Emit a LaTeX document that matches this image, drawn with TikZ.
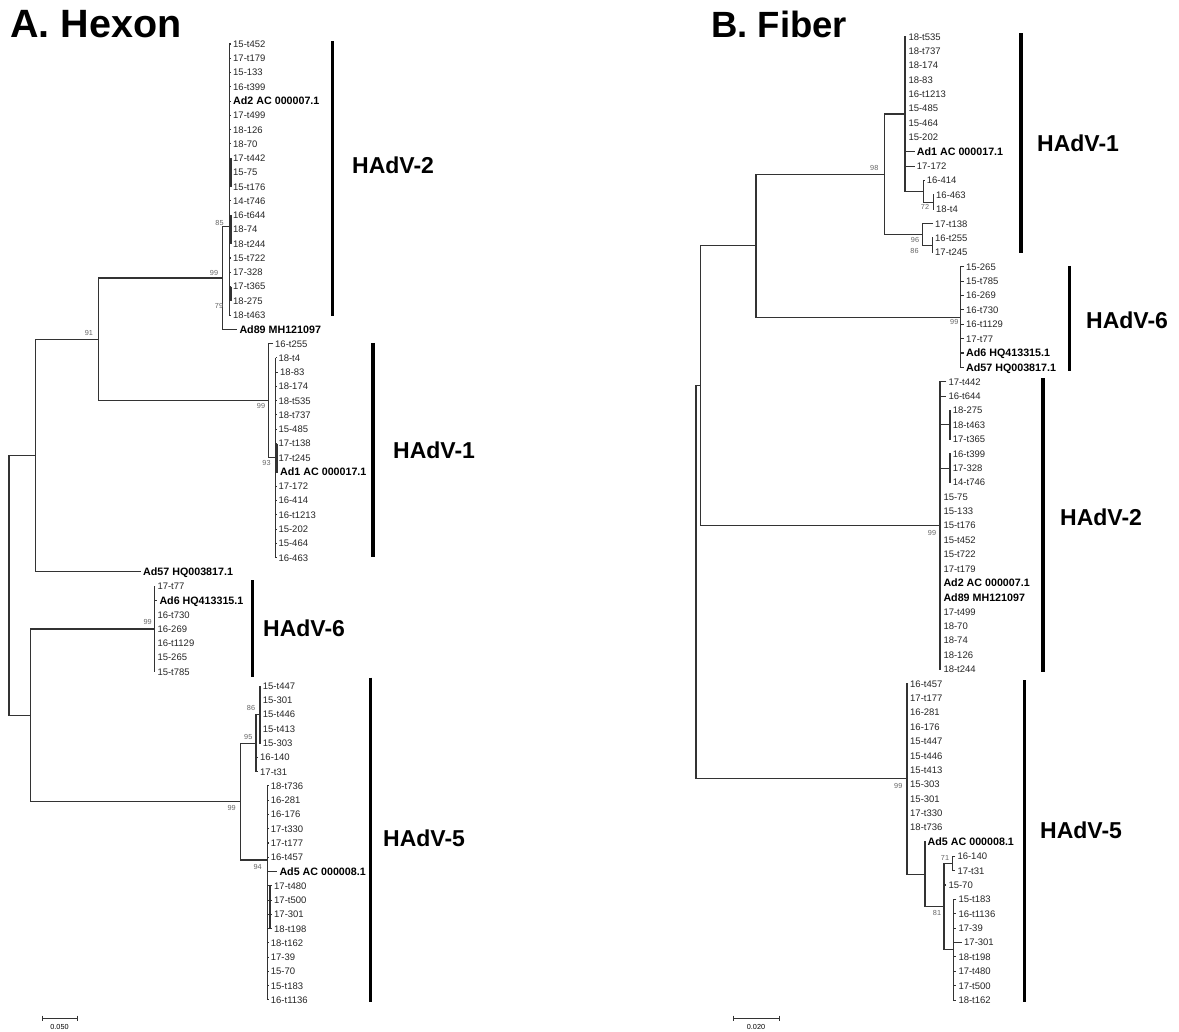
\documentclass[tikz,border=0pt]{standalone}
\usepackage{fontspec}
\newfontfamily\arial{Liberation Sans}
\usetikzlibrary{calc}
\newcommand\hxleaf[3]{\node[leaf] (h#1) at (#2,{44+14.268*#1}) {#3};}
\newcommand\hxbold[3]{\node[bleaf] (h#1) at (#2,{44+14.268*#1}) {#3};}
\newcommand\fbleaf[3]{\node[leaf] (f#1) at (#2,{36.7+14.378*#1}) {#3};}
\newcommand\fbbold[3]{\node[bleaf] (f#1) at (#2,{36.7+14.378*#1}) {#3};}
\begin{document}
\begin{tikzpicture}[x=1pt,y=-1pt,
  br/.style={line width=1.05pt,draw=black!80},
  thk/.style={line width=2.2pt,draw=black!80},
  leaf/.style={anchor=west,inner xsep=2pt,inner ysep=0pt,text height=6.8pt,text depth=0pt,font=\arial\fontsize{9.5}{10}\selectfont,text=black!85},
  bleaf/.style={leaf,text height=7.7pt,font=\arial\bfseries\fontsize{10.7}{11}\selectfont,text=black},
  bs/.style={inner sep=0pt,font=\arial\fontsize{7.3}{7.3}\selectfont,text=black!60},
  bar/.style={line width=3.6pt,draw=black},
  clab/.style={anchor=west,inner sep=0pt,font=\arial\bfseries\fontsize{23}{24}\selectfont},
  ttl/.style={anchor=base west,inner sep=0pt},
  sb/.style={line width=0.9pt,draw=black!80},
  sbl/.style={inner sep=0pt,font=\arial\fontsize{7.3}{7.3}\selectfont}
]
\useasboundingbox (0,0) rectangle (1179,1032);
\fill[white] (0,0) rectangle (1179,1032);

% ---------------- titles
\node[ttl,font=\arial\bfseries\fontsize{39.5}{40}\selectfont] (tA) at (10,38) {A. Hexon};
\node[ttl,font=\arial\bfseries\fontsize{36.5}{40}\selectfont] (tB) at (711,38) {B. Fiber};

% ================= A. HEXON =================
\hxleaf{0}{231}{15-t452}
\hxleaf{1}{231}{17-t179}
\hxleaf{2}{231}{15-133}
\hxleaf{3}{231}{16-t399}
\hxbold{4}{231}{Ad2 AC 000007.1}
\hxleaf{5}{231}{17-t499}
\hxleaf{6}{231}{18-126}
\hxleaf{7}{231}{18-70}
\hxleaf{8}{231}{17-t442}
\hxleaf{9}{231}{15-75}
\hxleaf{10}{231}{15-t176}
\hxleaf{11}{231}{14-t746}
\hxleaf{12}{231}{16-t644}
\hxleaf{13}{231}{18-74}
\hxleaf{14}{231}{18-t244}
\hxleaf{15}{231}{15-t722}
\hxleaf{16}{231}{17-328}
\hxleaf{17}{231}{17-t365}
\hxleaf{18}{231}{18-275}
\hxleaf{19}{231}{18-t463}
\hxbold{20}{237.3}{Ad89 MH121097}
\hxleaf{21}{273}{16-t255}
\hxleaf{22}{276.3}{18-t4}
\hxleaf{23}{278}{18-83}
\hxleaf{24}{276.3}{18-174}
\hxleaf{25}{276.3}{18-t535}
\hxleaf{26}{276.3}{18-t737}
\hxleaf{27}{276.3}{15-485}
\hxleaf{28}{276.3}{17-t138}
\hxleaf{29}{276.3}{17-t245}
\hxbold{30}{278}{Ad1 AC 000017.1}
\hxleaf{31}{276.3}{17-172}
\hxleaf{32}{276.3}{16-414}
\hxleaf{33}{276.3}{16-t1213}
\hxleaf{34}{276.3}{15-202}
\hxleaf{35}{276.3}{15-464}
\hxleaf{36}{276.3}{16-463}
\hxbold{37}{141}{Ad57 HQ003817.1}
\hxleaf{38}{155.3}{17-t77}
\hxbold{39}{157.3}{Ad6 HQ413315.1}
\hxleaf{40}{155.3}{16-t730}
\hxleaf{41}{155.3}{16-269}
\hxleaf{42}{155.3}{16-t1129}
\hxleaf{43}{155.3}{15-265}
\hxleaf{44}{155.3}{15-t785}
\hxleaf{45}{260.7}{15-t447}
\hxleaf{46}{260.7}{15-301}
\hxleaf{47}{260.7}{15-t446}
\hxleaf{48}{260.7}{15-t413}
\hxleaf{49}{260.7}{15-303}
\hxleaf{50}{258}{16-140}
\hxleaf{51}{258}{17-t31}
\hxleaf{52}{268.7}{18-t736}
\hxleaf{53}{268.7}{16-281}
\hxleaf{54}{268.7}{16-176}
\hxleaf{55}{268.7}{17-t330}
\hxleaf{56}{268.7}{17-t177}
\hxleaf{57}{268.7}{16-t457}
\hxbold{58}{277.3}{Ad5 AC 000008.1}
\hxleaf{59}{272}{17-t480}
\hxleaf{60}{272}{17-t500}
\hxleaf{61}{272}{17-301}
\hxleaf{62}{272}{18-t198}
\hxleaf{63}{268.7}{18-t162}
\hxleaf{64}{268.7}{17-39}
\hxleaf{65}{268.7}{15-70}
\hxleaf{66}{268.7}{15-t183}
\hxleaf{67}{268.7}{16-t1136}

\coordinate (hxB) at (229.3,226.7);
\coordinate (hxA) at (222.7,278.0);
\coordinate (hx93) at (275.7,457.8);
\coordinate (hxH1) at (268.3,400.7);
\coordinate (hx91) at (98.3,339.35);
\coordinate (hxU) at (35.7,455.6);
\coordinate (hx6) at (154.3,629.0);
\coordinate (hx86) at (260,714.6);
\coordinate (hx95) at (256,743.1);
\coordinate (hx94) at (267.3,860);
\coordinate (hx5) at (240.3,801.6);
\coordinate (hxV) at (30.3,715.3);
\coordinate (hxR) at (9,585.5);

\draw[br] (hxU) -| (hxR) |- (hxV);
\draw[br] (hx91) -| (hxU) |- (h37);
\draw[br] (hxA) -| (hx91) |- (hxH1);
\draw[br] (hxB) -| (hxA) |- (h20);
\draw[br] (hxB |- h0) -- (hxB |- h19);
\foreach \i in {0,...,19} {\draw[br] (hxB |- h\i) -- (h\i);}
\draw[thk] (h8.west) -- (h10.west);
\draw[thk] (h12.west) -- (h14.west);
\draw[thk] (h17.west) -- (h18.west);
\draw[br] (h21) -| (hxH1) |- (hx93);
\draw[br] (hx93 |- h22) -- (hx93 |- h36);
\foreach \i in {22,...,36} {\draw[br] (hx93 |- h\i) -- (h\i);}
\draw[thk] ($(hx93 |- h28)+(1.2,0)$) -- ($(hx93 |- h30)+(1.2,0)$);
\draw[br] (hx6) -| (hxV) |- (hx5);
\draw[br] (h38) -| (hx6) |- (h44);
\foreach \i in {39,...,43} {\draw[br] (hx6 |- h\i) -- (h\i);}
\draw[br] (hx95) -| (hx5) |- (hx94);
\draw[br] (hx86) -| (hx95) |- (h51);
\draw[br] (hx95 |- h50) -- (h50);
\draw[br] (h45) -| (hx86) |- (h49);
\foreach \i in {46,47,48} {\draw[br] (hx86 |- h\i) -- (h\i);}
\draw[br] (hx94 |- h52) -- (hx94 |- h67);
\foreach \i in {52,...,67} {\draw[br] (hx94 |- h\i) -- (h\i);}
\draw[thk] ($(hx94 |- h59)+(2.6,0)$) -- ($(hx94 |- h62)+(2.6,0)$);

\node[bs] (bA99) at (214,273) {99};
\node[bs] (bA85) at (219.5,223) {85};
\node[bs] (bA79) at (219,306) {79};
\node[bs] (bA91) at (89,333.3) {91};
\node[bs] (bA99b) at (261,405.5) {99};
\node[bs] (bA93) at (266.5,463.3) {93};
\node[bs] (bA99c) at (147.7,622.3) {99};
\node[bs] (bA86) at (251,708.3) {86};
\node[bs] (bA95) at (248.3,736.7) {95};
\node[bs] (bA99d) at (231.7,808) {99};
\node[bs] (bA94) at (257.7,866.7) {94};

\draw[bar] (332.5,41.5) -- (332.5,316.5);
\node[clab] (cA2) at (352,165) {HAdV-2};
\draw[bar] (373,343) -- (373,557);
\node[clab] (cA1) at (393,450) {HAdV-1};
\draw[bar] (252.5,580) -- (252.5,676.5);
\node[clab] (cA6) at (263,628) {HAdV-6};
\draw[bar] (370.5,677.5) -- (370.5,1001.5);
\node[clab] (cA5) at (383,838) {HAdV-5};

\coordinate (sA1) at (42,1018);
\coordinate (sA2) at (77,1018);
\draw[sb] (sA1) -- (sA2);
\draw[sb] ($(sA1)+(0,-2.5)$) -- ($(sA1)+(0,2.5)$);
\draw[sb] ($(sA2)+(0,-2.5)$) -- ($(sA2)+(0,2.5)$);
\node[sbl] (sAl) at (59.5,1027) {0.050};

% ================= B. FIBER =================
\fbleaf{0}{906.3}{18-t535}
\fbleaf{1}{906.3}{18-t737}
\fbleaf{2}{906.3}{18-174}
\fbleaf{3}{906.3}{18-83}
\fbleaf{4}{906.3}{16-t1213}
\fbleaf{5}{906.3}{15-485}
\fbleaf{6}{906.3}{15-464}
\fbleaf{7}{906.3}{15-202}
\fbbold{8}{914.7}{Ad1 AC 000017.1}
\fbleaf{9}{914.7}{17-172}
\fbleaf{10}{924.7}{16-414}
\fbleaf{11}{934}{16-463}
\fbleaf{12}{934}{18-t4}
\fbleaf{13}{933}{17-t138}
\fbleaf{14}{933}{16-t255}
\fbleaf{15}{933}{17-t245}
\fbleaf{16}{964}{15-265}
\fbleaf{17}{964}{15-t785}
\fbleaf{18}{964}{16-269}
\fbleaf{19}{964}{16-t730}
\fbleaf{20}{964}{16-t1129}
\fbleaf{21}{964}{17-t77}
\fbbold{22}{964}{Ad6 HQ413315.1}
\fbbold{23}{964}{Ad57 HQ003817.1}
\fbleaf{24}{946.3}{17-t442}
\fbleaf{25}{946.3}{16-t644}
\fbleaf{26}{950.7}{18-275}
\fbleaf{27}{950.7}{18-t463}
\fbleaf{28}{950.7}{17-t365}
\fbleaf{29}{950.7}{16-t399}
\fbleaf{30}{950.7}{17-328}
\fbleaf{31}{950.7}{14-t746}
\fbleaf{32}{941.3}{15-75}
\fbleaf{33}{941.3}{15-133}
\fbleaf{34}{941.3}{15-t176}
\fbleaf{35}{941.3}{15-t452}
\fbleaf{36}{941.3}{15-t722}
\fbleaf{37}{941.3}{17-t179}
\fbbold{38}{941.3}{Ad2 AC 000007.1}
\fbbold{39}{941.3}{Ad89 MH121097}
\fbleaf{40}{941.3}{17-t499}
\fbleaf{41}{941.3}{18-70}
\fbleaf{42}{941.3}{18-74}
\fbleaf{43}{941.3}{18-126}
\fbleaf{44}{941.3}{18-t244}
\fbleaf{45}{908}{16-t457}
\fbleaf{46}{908}{17-t177}
\fbleaf{47}{908}{16-281}
\fbleaf{48}{908}{16-176}
\fbleaf{49}{908}{15-t447}
\fbleaf{50}{908}{15-t446}
\fbleaf{51}{908}{15-t413}
\fbleaf{52}{908}{15-303}
\fbleaf{53}{908}{15-301}
\fbleaf{54}{908}{17-t330}
\fbleaf{55}{908}{18-t736}
\fbbold{56}{925.5}{Ad5 AC 000008.1}
\fbleaf{57}{955.3}{16-140}
\fbleaf{58}{955.3}{17-t31}
\fbleaf{59}{946.3}{15-70}
\fbleaf{60}{956.3}{15-t183}
\fbleaf{61}{956.3}{16-t1136}
\fbleaf{62}{956.3}{17-39}
\fbleaf{63}{962}{17-301}
\fbleaf{64}{956.3}{18-t198}
\fbleaf{65}{956.3}{17-t480}
\fbleaf{66}{956.3}{17-t500}
\fbleaf{67}{956.3}{18-t162}

\coordinate (fx72) at (933.3,202.05);
\coordinate (fx414) at (923.3,191.27);
\coordinate (fxH1) at (905,113.99);
\coordinate (fx86) at (932.3,245.18);
\coordinate (fx96) at (922.7,234.40);
\coordinate (fx98) at (884.3,174.20);
\coordinate (fxH6) at (960.7,317.07);
\coordinate (fxX) at (756,245.64);
\coordinate (fxs1) at (950,424.91);
\coordinate (fxs2) at (950,468.04);
\coordinate (fxH2) at (940,525.55);
\coordinate (fxP) at (700.7,385.60);
\coordinate (fx71) at (952.7,863.44);
\coordinate (fxR) at (953.3,949.71);
\coordinate (fx81) at (944,906.58);
\coordinate (fxQ) at (925,874.23);
\coordinate (fxH5) at (907,778.97);
\coordinate (fxRoot) at (696,582.29);

\draw[br] (fxP) -| (fxRoot) |- (fxH5);
\draw[br] (fxX) -| (fxP) |- (fxH2);
\draw[br] (fx98) -| (fxX) |- (fxH6);
\draw[br] (fxH1) -| (fx98) |- (fx96);
\draw[br] (f0) -| (fxH1) |- (fx414);
\foreach \i in {1,...,9} {\draw[br] (fxH1 |- f\i) -- (f\i);}
\draw[br] (f10) -| (fx414) |- (fx72);
\draw[br] (f11) -| (fx72) |- (f12);
\draw[br] (f13) -| (fx96) |- (fx86);
\draw[br] (f14) -| (fx86) |- (f15);
\draw[br] (f16) -| (fxH6) |- (f23);
\foreach \i in {17,...,22} {\draw[br] (fxH6 |- f\i) -- (f\i);}
\draw[br] (f24) -| (fxH2) |- (f44);
\foreach \i in {25,32,33,34,35,36,37,38,39,40,41,42,43} {\draw[br] (fxH2 |- f\i) -- (f\i);}
\draw[br] (fxH2 |- fxs1) -- (fxs1);
\draw[br] (fxH2 |- fxs2) -- (fxs2);
\draw[br] (f26) -| (fxs1) |- (f28);
\draw[br] (fxs1 |- f27) -- (f27);
\draw[br] (f29) -| (fxs2) |- (f31);
\draw[br] (fxs2 |- f30) -- (f30);
\draw[br] (f45) -| (fxH5) |- (fxQ);
\foreach \i in {46,...,55} {\draw[br] (fxH5 |- f\i) -- (f\i);}
\draw[br] (f56) -| (fxQ) |- (fx81);
\draw[br] (fx71) -| (fx81) |- (fxR);
\draw[br] (fx81 |- f59) -- (f59);
\draw[br] (f57) -| (fx71) |- (f58);
\draw[br] (f60) -| (fxR) |- (f67);
\foreach \i in {61,...,66} {\draw[br] (fxR |- f\i) -- (f\i);}

\node[bs] (bB98) at (874.3,168.3) {98};
\node[bs] (bB72) at (925,207) {72};
\node[bs] (bB96) at (915,240) {96};
\node[bs] (bB86) at (914.5,251) {86};
\node[bs] (bB99a) at (954.3,322.3) {99};
\node[bs] (bB99b) at (932,533) {99};
\node[bs] (bB99c) at (898.3,785.5) {99};
\node[bs] (bB81) at (937,913) {81};
\node[bs] (bB71) at (945,858.3) {71};

\draw[bar] (1021,33.5) -- (1021,253.5);
\node[clab] (cB1) at (1037,143) {HAdV-1};
\draw[bar] (1069.3,266) -- (1069.3,371.5);
\node[clab] (cB6) at (1086,320) {HAdV-6};
\draw[bar] (1042.7,378.5) -- (1042.7,671.5);
\node[clab] (cB2) at (1060,517) {HAdV-2};
\draw[bar] (1024.3,680) -- (1024.3,1001.5);
\node[clab] (cB5) at (1040,830) {HAdV-5};

\coordinate (sB1) at (733,1018);
\coordinate (sB2) at (779,1018);
\draw[sb] (sB1) -- (sB2);
\draw[sb] ($(sB1)+(0,-2.5)$) -- ($(sB1)+(0,2.5)$);
\draw[sb] ($(sB2)+(0,-2.5)$) -- ($(sB2)+(0,2.5)$);
\node[sbl] (sBl) at (756,1027) {0.020};
\end{tikzpicture}
\end{document}
